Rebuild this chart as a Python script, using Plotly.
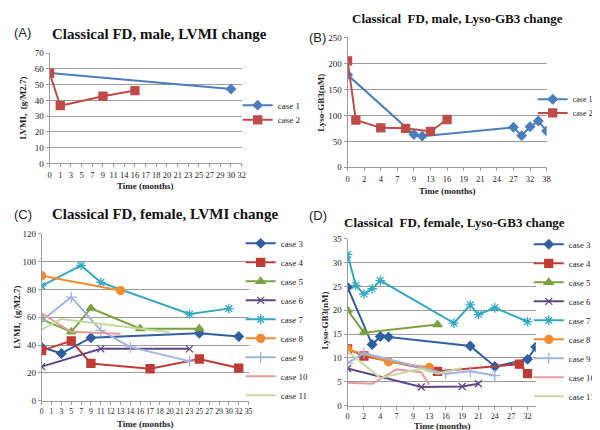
import plotly.graph_objects as go

# ---------------- data ----------------
# Panel A: Classical FD, male, LVMI
A_categories = ["0", "1", "3", "5", "7", "9", "11", "14", "16", "17", "18", "20",
                "21", "23", "25", "27", "29", "30", "32"]
A_case1_time = ["0", "30"]
A_case1_lvmi = [57.3, 47.2]
A_case2_time = ["0", "1", "9", "16"]
A_case2_lvmi = [57.2, 36.6, 42.6, 46.2]

# Panel B: Classical FD, male, Lyso-GB3
B_categories = ["0", "1", "2", "3", "4", "6", "7", "8", "9", "11", "13", "14", "16",
                "17", "19", "20", "21", "23", "24", "26", "27", "30", "32", "35", "38"]
B_tick_labels = ["0", "2", "4", "7", "9", "13", "16", "19", "21", "24", "27", "32", "38"]
B_case1_time = ["0", "9", "11", "27", "30", "32", "35", "38"]
B_case1_lyso = [178, 63, 60, 77, 61, 78, 89, 70]
B_case2_time = ["0", "1", "4", "8", "13", "16"]
B_case2_lyso = [205, 91, 76, 75, 69, 92]

# Panel C: Classical FD, female, LVMI
C_categories = ["0", "1", "3", "5", "7", "9", "11", "12", "13", "14", "16", "17",
                "18", "20", "21", "23", "25", "27", "29", "30", "32", "35"]
C_cases = ["case 3", "case 4", "case 5", "case 6", "case 7", "case 8", "case 9",
           "case 10", "case 11"]
C_times = [
    ["0", "3", "9", "25", "32"],
    ["0", "5", "9", "17", "25", "32"],
    ["0", "5", "9", "16", "25"],
    ["0", "11", "23"],
    ["0", "7", "11", "23", "30"],
    ["0", "13"],
    ["0", "5", "11", "14", "23"],
    ["0", "5", "13"],
    ["0", "3", "20"],
]
C_lvmi = [
    [38.5, 34.0, 45.3, 48.5, 46.2],
    [36.0, 43.0, 26.8, 23.0, 30.0, 23.5],
    [58.5, 49.5, 66.5, 51.8, 51.8],
    [24.5, 37.3, 37.3],
    [82.5, 97.2, 85.0, 62.3, 66.2],
    [89.8, 79.2],
    [57.5, 74.5, 50.5, 38.5, 28.5],
    [62.8, 49.5, 48.2],
    [51.2, 58.8, 49.2],
]

# Panel D: Classical FD, female, Lyso-GB3
D_categories = ["0", "1", "2", "3", "4", "6", "7", "8", "9", "11", "13", "15", "16",
                "18", "19", "20", "21", "23", "24", "26", "27", "30", "32", "34"]
D_tick_labels = ["0", "2", "4", "7", "9", "13", "16", "19", "21", "24", "27", "32"]
D_times = [
    ["0", "3", "4", "6", "20", "24", "32", "34"],
    ["0", "2", "15", "30", "32"],
    ["0", "2", "15"],
    ["0", "11", "19", "21"],
    ["0", "1", "2", "3", "4", "18", "20", "21", "24", "32"],
    ["0", "6", "13"],
    ["0", "2", "16", "20", "24"],
    ["0", "3", "7", "11", "13"],
    ["0", "4", "11", "15", "19"],
]
D_lyso = [
    [24.8, 12.8, 14.5, 14.4, 12.5, 8.2, 9.7, 12.3],
    [11.9, 10.4, 7.2, 8.7, 6.7],
    [20.0, 15.3, 17.0],
    [7.8, 3.9, 4.0, 4.6],
    [31.7, 25.2, 23.4, 24.5, 26.2, 17.3, 21.1, 19.1, 20.5, 17.6],
    [11.8, 9.2, 8.0],
    [8.9, 11.0, 6.7, 7.2, 6.3],
    [4.8, 4.6, 7.6, 7.0, 4.4],
    [11.4, 5.8, 7.8, 6.7, 7.9],
]

# ---------------- styles ----------------
SERIF = "Liberation Serif"
SANS = "Liberation Sans"
GRID = "#9a9a9a"
W, H = 600, 430
PAD = "\u00a0\u00a0"  # keeps right-edge legend text clear of the legend clip

male_styles = [
    dict(color="#4a7ebb", symbol="diamond", size=7),
    dict(color="#be4b48", symbol="square", size=8),
]
female_styles = [
    dict(color="#2f5f9e", symbol="diamond", size=7),
    dict(color="#be3b36", symbol="square", size=8),
    dict(color="#7ba23f", symbol="triangle-up", size=8),
    dict(color="#614485", symbol="x-thin-open", size=7),
    dict(color="#32a8c0", symbol="asterisk-open", size=8),
    dict(color="#f38a30", symbol="circle", size=8),
    dict(color="#9fb4dc", symbol="cross-thin-open", size=8),
    dict(color="#e59b99", symbol=None, size=0),
    dict(color="#c4d8a0", symbol=None, size=0),
]

fig = go.Figure()


def add_series(name, cats, times, vals, axn, legend, st):
    xs = [cats.index(t) for t in times]
    suffix = "" if axn == 1 else str(axn)
    mode = "lines+markers" if st["symbol"] else "lines"
    marker = dict(color=st["color"], size=st["size"])
    if st["symbol"]:
        marker["symbol"] = st["symbol"]
        marker["line"] = dict(color=st["color"], width=1.3)
    fig.add_trace(go.Scatter(
        x=xs, y=vals, name=name, mode=mode, showlegend=True,
        line=dict(color=st["color"], width=2),
        marker=marker,
        xaxis="x" + suffix, yaxis="y" + suffix, legend=legend,
    ))


add_series("case 1", A_categories, A_case1_time, A_case1_lvmi, 1, "legend5", male_styles[0])
add_series("case 2", A_categories, A_case2_time, A_case2_lvmi, 1, "legend6", male_styles[1])
add_series("case 1" + PAD, B_categories, B_case1_time, B_case1_lyso, 2, "legend2", male_styles[0])
add_series("case 2" + PAD, B_categories, B_case2_time, B_case2_lyso, 2, "legend7", male_styles[1])
for i, nm in enumerate(C_cases):
    add_series(nm, C_categories, C_times[i], C_lvmi[i], 3, "legend3", female_styles[i])
for i, nm in enumerate(C_cases):
    add_series(nm + PAD, D_categories, D_times[i], D_lyso[i], 4, "legend4", female_styles[i])


def px_x(v):
    return v / W


def px_y(v):
    return 1 - v / H


def xaxis(cats, labels, left, right, tickfont):
    return dict(
        domain=[px_x(left), px_x(right)],
        range=[0, len(cats) - 1],
        tickmode="array",
        tickvals=[cats.index(t) for t in labels],
        ticktext=labels,
        tickangle=0,
        showgrid=False, zeroline=False,
        showline=True, linecolor=GRID, linewidth=1,
        ticks="outside", ticklen=3, tickcolor=GRID,
        tickfont=dict(family=SERIF, size=tickfont, color="#222"),
        fixedrange=True,
    )


def yaxis(top, bottom, ymax, dtick, xanchor):
    return dict(
        domain=[px_y(bottom), px_y(top)],
        range=[0, ymax], dtick=dtick,
        showgrid=True, gridcolor=GRID, gridwidth=1,
        zeroline=False,
        showline=True, linecolor=GRID, linewidth=1,
        ticks="outside", ticklen=3, tickcolor=GRID,
        tickfont=dict(family=SERIF, size=9, color="#222"),
        anchor=xanchor,
        fixedrange=True,
    )


def legend_at(x, y, size=9, anchor="left"):
    return dict(
        font=dict(family=SERIF, size=size, color="#222"),
        bgcolor="rgba(0,0,0,0)", borderwidth=0,
        xanchor=anchor, yanchor="top", tracegroupgap=0,
        x=px_x(x), y=px_y(y), visible=True,
    )


fig.update_layout(
    width=W, height=H,
    margin=dict(l=0, r=0, t=0, b=0),
    paper_bgcolor="white", plot_bgcolor="white",
    showlegend=True,
    xaxis=xaxis(A_categories, A_categories, 40, 234, 8.5) | dict(anchor="y"),
    yaxis=yaxis(41, 154, 70, 10, "x"),
    xaxis2=xaxis(B_categories, B_tick_labels, 341, 542, 8.5) | dict(anchor="y2"),
    yaxis2=yaxis(25, 158, 250, 50, "x2"),
    xaxis3=xaxis(C_categories, C_categories, 32, 241, 7.8) | dict(anchor="y3"),
    yaxis3=yaxis(226, 397, 120, 20, "x3"),
    xaxis4=xaxis(D_categories, D_tick_labels, 341, 531, 8.2) | dict(anchor="y4"),
    yaxis4=yaxis(231, 402, 35, 5, "x4"),
    legend=legend_at(0, 0) | dict(visible=False),
    legend5=legend_at(230, 79.5),
    legend6=legend_at(230, 94.5),
    legend2=legend_at(528, 73.5, 8),
    legend7=legend_at(528, 87.5, 8),
    legend3=legend_at(233, 221),
    legend4=legend_at(524, 222, 8.8),
)

annotations = [
    # panel letters
    dict(text="(A)", x=2, y=20, font=dict(family=SANS, size=13, color="#222")),
    dict(text="(B)", x=300, y=25, font=dict(family=SANS, size=13, color="#222")),
    dict(text="(C)", x=2, y=206, font=dict(family=SANS, size=13, color="#222")),
    dict(text="(D)", x=300, y=207, font=dict(family=SANS, size=13, color="#222")),
    # titles
    dict(text="<b>Classical FD, male, LVMI change</b>", x=40, y=21,
         font=dict(family=SERIF, size=15, color="#111")),
    dict(text="<b>Classical  FD, male, Lyso-GB3 change</b>", x=343, y=6,
         font=dict(family=SERIF, size=13, color="#111")),
    dict(text="<b>Classical FD, female, LVMI change</b>", x=40, y=206,
         font=dict(family=SERIF, size=15, color="#111")),
    dict(text="<b>Classical  FD, female, Lyso-GB3 change</b>", x=335, y=214,
         font=dict(family=SERIF, size=13, color="#111")),
]
for a in annotations:
    a.update(xref="paper", yref="paper", xanchor="left", yanchor="middle",
             showarrow=False, x=px_x(a["x"]), y=px_y(a["y"]))

axis_titles = [
    dict(text="<b>Time (months)</b>", x=137, y=177, angle=0),
    dict(text="<b>Time (months)</b>", x=442, y=182, angle=0),
    dict(text="<b>Time (months)</b>", x=137, y=421, angle=0),
    dict(text="<b>Time (months)</b>", x=437, y=423, angle=0),
    dict(text="<b>LVMI,  (g/M2.7)</b>", x=13, y=97, angle=-90),
    dict(text="<b>Lyso-GB3(nM)</b>", x=314, y=92, angle=-90),
    dict(text="<b>LVMI,  (g/M2.7)</b>", x=7, y=311, angle=-90),
    dict(text="<b>Lyso-GB3(nM)</b>", x=318, y=315, angle=-90),
]
for a in axis_titles:
    annotations.append(dict(
        text=a["text"], x=px_x(a["x"]), y=px_y(a["y"]), xref="paper", yref="paper",
        xanchor="center", yanchor="middle", showarrow=False, textangle=a["angle"],
        font=dict(family=SERIF, size=9, color="#222"),
    ))

fig.update_layout(annotations=annotations)
fig.write_html("out.html")
